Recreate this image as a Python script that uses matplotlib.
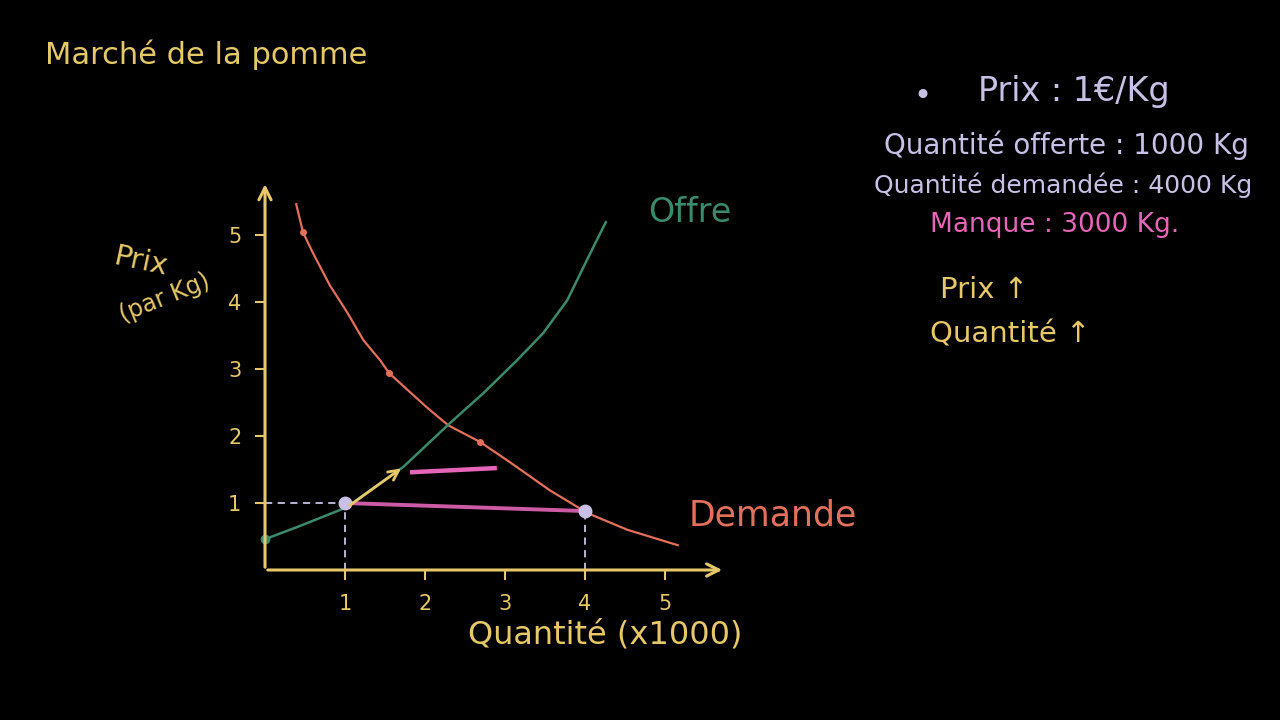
import matplotlib
matplotlib.use('Agg')
import matplotlib.pyplot as plt
import numpy as np

# couleurs "craie"
YELLOW = '#e6c868'
ORANGE = '#e3705a'
GREEN = '#3a8a6c'
PINK = '#e565b8'
LAVENDER = '#c9c0e6'

demand_q = [0.39, 0.475, 0.60, 0.81, 1.03, 1.23, 1.44, 1.55, 1.78, 2.03, 2.29, 2.69,
            3.06, 3.56, 4.03, 4.53, 5.16]
demand_p = [5.46, 5.04, 4.73, 4.25, 3.84, 3.43, 3.13, 2.94, 2.69, 2.42, 2.16, 1.91,
            1.61, 1.19, 0.85, 0.60, 0.37]
demand_dots_q = [0.475, 1.55, 2.69]
demand_dots_p = [5.04, 2.94, 1.91]

# courbe d'offre
supply_q = [0.0, 0.40, 1.03, 1.35, 1.73, 2.31, 2.73, 3.15, 3.48, 3.78, 3.98, 4.15, 4.26]
supply_p = [0.46, 0.64, 0.94, 1.22, 1.54, 2.19, 2.64, 3.13, 3.54, 4.03, 4.52, 4.93, 5.19]

price = 1.0
q_offered = 1.0
q_demanded = 4.0

xticks = [1, 2, 3, 4, 5]
yticks = [1, 2, 3, 4, 5]

fig = plt.figure(figsize=(12.8, 7.2), dpi=100, facecolor='black')
# axe placé pour que l'origine tombe vers (265, 570) px
ax = fig.add_axes([265 / 1280, 1 - 570 / 720, 80 * 5.75 / 1280, 67 * 5.8 / 720])
ax.set_facecolor('black')
ax.set_xlim(0, 5.75)
ax.set_ylim(0, 5.8)
for s in ax.spines.values():
    s.set_visible(False)

# axes avec flèches ouvertes
ax.annotate('', xy=(5.75, 0), xytext=(0, 0),
            arrowprops=dict(arrowstyle='->', color=YELLOW, lw=2.2, mutation_scale=22),
            annotation_clip=False)
ax.annotate('', xy=(0, 5.8), xytext=(0, 0),
            arrowprops=dict(arrowstyle='->', color=YELLOW, lw=2.2, mutation_scale=22),
            annotation_clip=False)

ax.set_xticks(xticks)
ax.set_yticks(yticks)
ax.set_xticklabels([str(t) for t in xticks])
ax.set_yticklabels([str(t) for t in yticks])
ax.tick_params(colors=YELLOW, labelcolor=YELLOW, labelsize=15, length=7, width=1.5, pad=10)

# courbes
ax.plot(demand_q, demand_p, color=ORANGE, lw=1.6, clip_on=False, solid_joinstyle='round')
ax.plot(demand_dots_q, demand_dots_p, 'o', color=ORANGE, ms=4, clip_on=False)
ax.plot(supply_q, supply_p, color=GREEN, lw=1.8, clip_on=False, solid_joinstyle='round')
ax.plot(supply_q[0], supply_p[0], 'o', color=GREEN, ms=6, clip_on=False)

# pointillés vers les axes
ax.plot([0, q_offered], [price, price], ls=(0, (4, 3)), color=LAVENDER, lw=1.3)
ax.plot([q_offered, q_offered], [0, price], ls=(0, (4, 3)), color=LAVENDER, lw=1.3)
ax.plot([q_demanded, q_demanded], [0, 0.88], ls=(0, (4, 3)), color=LAVENDER, lw=1.3)

# pénurie (manque)
ax.plot([q_offered, q_demanded], [1.0, 0.88], color=PINK, lw=2.8, alpha=0.9)
ax.plot([1.84, 2.87], [1.46, 1.52], color=PINK, lw=3.2)

# flèche le long de l'offre
ax.annotate('', xy=(1.73, 1.54), xytext=(1.03, 0.94),
            arrowprops=dict(arrowstyle='->', color=YELLOW, lw=2, mutation_scale=18))

ax.plot([q_offered, q_demanded], [price, 0.88], 'o', color=LAVENDER, ms=9, clip_on=False)

# textes
fig.text(45 / 1280, 1 - 55 / 720, 'Marché de la pomme', color=YELLOW, fontsize=22,
         va='center', ha='left')
fig.text(140 / 1280, 1 - 262 / 720, 'Prix', color=YELLOW, fontsize=21,
         va='center', ha='center', rotation=-12)
fig.text(165 / 1280, 1 - 298 / 720, '(par Kg)', color=YELLOW, fontsize=17,
         va='center', ha='center', rotation=22)
fig.text(690 / 1280, 1 - 212 / 720, 'Offre', color=GREEN, fontsize=24,
         va='center', ha='center')
fig.text(773 / 1280, 1 - 515 / 720, 'Demande', color=ORANGE, fontsize=25,
         va='center', ha='center')
fig.text(605 / 1280, 1 - 635 / 720, 'Quantité (x1000)', color=YELLOW, fontsize=23,
         va='center', ha='center')

fig.text(922 / 1280, 1 - 97 / 720, '•', color=LAVENDER, fontsize=22,
         va='center', ha='center')
fig.text(1074 / 1280, 1 - 92 / 720, 'Prix : 1€/Kg', color=LAVENDER, fontsize=24,
         va='center', ha='center')
fig.text(1066 / 1280, 1 - 145 / 720, 'Quantité offerte : 1000 Kg', color=LAVENDER,
         fontsize=20, va='center', ha='center')
fig.text(1063 / 1280, 1 - 185 / 720, 'Quantité demandée : 4000 Kg', color=LAVENDER,
         fontsize=18, va='center', ha='center')
fig.text(1055 / 1280, 1 - 225 / 720, 'Manque : 3000 Kg.', color=PINK, fontsize=19,
         va='center', ha='center')
fig.text(940 / 1280, 1 - 290 / 720, 'Prix ↑', color=YELLOW, fontsize=21,
         va='center', ha='left')
fig.text(930 / 1280, 1 - 335 / 720, 'Quantité ↑', color=YELLOW, fontsize=21,
         va='center', ha='left')

fig.savefig('out.png', dpi=100, facecolor='black')
